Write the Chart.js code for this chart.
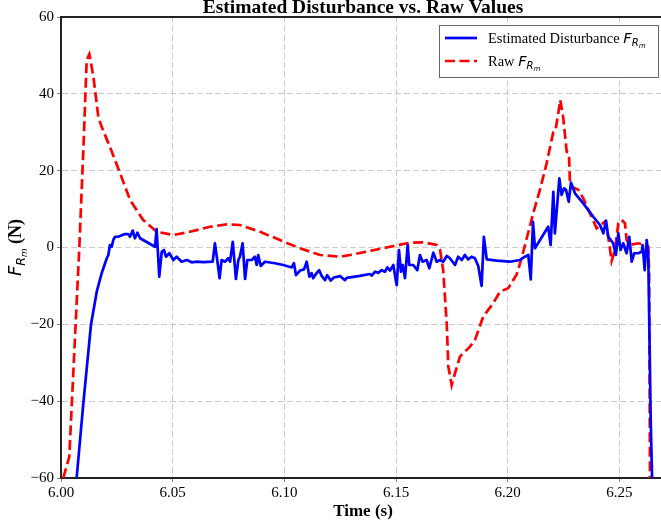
<!DOCTYPE html>
<html><head><meta charset="utf-8">
<script src="https://cdn.jsdelivr.net/npm/chart.js@4"></script>
<style>html,body{margin:0;padding:0;overflow:hidden;background:#fff;width:661px;height:524px}canvas{display:block}</style>
</head><body>
<canvas id="c" width="680" height="524"></canvas>
<script>
const chartTitle = 'Estimated Disturbance vs. Raw Values';
const xTitle = 'Time (s)';
const yUnit = ' (N)';
const symMain = 'F', symSub = 'R', symSubSub = 'm';
const seriesNames = ['Estimated Disturbance ', 'Raw '];
const xTicks = [6.00, 6.05, 6.10, 6.15, 6.20, 6.25];
const yTicks = [-60, -40, -20, 0, 20, 40, 60];

const tEst = [6.0070,6.0100,6.0134,6.0160,6.0182,6.0205,6.0212,6.0219,6.0227,6.0234,
6.0242,6.0256,6.0286,6.0301,6.0309,6.0321,6.0331,6.0342,6.0354,6.0421,
6.0428,6.0440,6.0451,6.0461,6.0470,6.0485,6.0503,6.0518,6.0540,6.0563,
6.0585,6.0607,6.0637,6.0679,6.0689,6.0700,6.0710,6.0719,6.0734,6.0749,
6.0757,6.0769,6.0783,6.0794,6.0801,6.0813,6.0824,6.0834,6.0854,6.0868,
6.0876,6.0883,6.0894,6.0913,6.0958,6.0995,6.1033,6.1043,6.1052,6.1070,
6.1088,6.1100,6.1112,6.1122,6.1129,6.1141,6.1156,6.1167,6.1182,6.1192,
6.1207,6.1222,6.1241,6.1249,6.1271,6.1279,6.1338,6.1383,6.1391,6.1406,
6.1420,6.1436,6.1450,6.1461,6.1473,6.1488,6.1495,6.1503,6.1513,6.1522,
6.1530,6.1540,6.1552,6.1559,6.1577,6.1595,6.1607,6.1619,6.1637,6.1649,
6.1667,6.1682,6.1697,6.1711,6.1727,6.1741,6.1764,6.1778,6.1794,6.1808,
6.1823,6.1838,6.1853,6.1868,6.1883,6.1893,6.1906,6.1950,6.2010,6.2055,
6.2077,6.2092,6.2103,6.2113,6.2122,6.2181,6.2192,6.2204,6.2211,6.2231,
6.2241,6.2252,6.2261,6.2273,6.2283,6.2301,6.2338,6.2383,6.2413,6.2428,
6.2440,6.2450,6.2472,6.2484,6.2495,6.2505,6.2517,6.2532,6.2544,6.2555,
6.2566,6.2584,6.2600,6.2604,6.2613,6.2622,6.2629,6.2640,6.2647];
const vEst = [-60,-40.6,-20.2,-11.5,-6.7,-2.8,-1.95,0.65,0.2,1.95,
2.8,2.8,3.5,3.5,2.8,4.4,2.4,3.85,2.4,0.2,
4.8,-7.6,-1.1,-0.65,-2.4,-1.5,-3.25,-2.4,-3.7,-3.25,
-3.85,-3.7,-3.8,-3.7,1.1,-3.5,-8.0,-3.25,-3.7,-2.8,
-3.7,1.5,-8.2,-3.25,-2.4,1.1,-8.2,-3.25,-3.25,-2.4,
-4.55,-1.95,-4.8,-3.7,-4.1,-4.55,-5.2,-4.1,-7.2,-6.0,
-5.7,-3.7,-7.6,-6.7,-8.0,-6.9,-5.9,-7.4,-8.5,-7.2,
-8.6,-7.8,-7.6,-7.4,-8.5,-7.9,-7.4,-6.9,-7.3,-6.3,
-6.6,-5.9,-6.3,-5.2,-6.0,-4.55,-7.2,-9.8,-0.65,-6.3,
-4.55,-8.0,0.65,-4.55,-4.55,-5.9,-1.95,-3.7,-3.25,-5.4,
-1.35,-3.7,-3.25,-3.7,-2.2,-2.8,-4.55,-2.4,-3.25,-1.95,
-3.1,-2.4,-2.8,-4.8,-10,2.8,-3.1,-3.4,-3.7,-3.25,
-2.4,-1.95,-8.3,6.7,-0.2,5.4,0.65,14.5,3.7,18.0,
13.7,15.4,15.0,11.9,16.9,14.1,11.5,8.0,5.86,3.7,
7.0,2.8,1.1,-1.95,3.7,-0.65,1.1,-1.5,2.8,-3.7,
-1.5,-1.5,-1.1,0.65,-5.9,1.95,-1.5,-44.9,-62];

const tRaw = [6.0010,6.0037,6.0082,6.0100,6.0115,6.0127,6.0145,6.0167,6.0182,6.0219,
6.0264,6.0309,6.0367,6.0428,6.0503,6.0577,6.0667,6.0742,6.0801,6.0891,
6.0980,6.1070,6.1159,6.1249,6.1294,6.1383,6.1473,6.1562,6.1622,6.1682,
6.1697,6.1711,6.1727,6.1734,6.1749,6.1764,6.1786,6.1831,6.1853,6.1890,
6.1935,6.1965,6.2002,6.2040,6.2062,6.2085,6.2114,6.2144,6.2174,6.2204,
6.2214,6.2226,6.2235,6.2248,6.2264,6.2274,6.2278,6.2286,6.2316,6.2338,
6.2368,6.2398,6.2435,6.2450,6.2465,6.2480,6.2495,6.2510,6.2525,6.2532,
6.2547,6.2584,6.2614,6.2629,6.2633,6.2637];
const vRaw = [-60,-54.5,0,25.4,48.8,50.3,44.5,34,31.4,26.2,
19.4,12.4,7.2,4.1,3.25,4.1,5.4,6.0,5.86,4.1,
1.95,-0.2,-1.95,-2.4,-1.95,-0.9,0.2,1.25,1.35,0.65,
-0.65,-5.9,-20,-31,-35.8,-32.7,-28.4,-25.8,-24.1,-18,
-14.5,-11.5,-10.6,-7,-2.8,2.4,8.9,15,21.9,30.1,
30.6,34.9,38.4,34,24.9,24.5,17.6,15.8,15,12.8,
8.9,5.0,6.7,2.8,-3.5,-0.65,6.3,7.2,6.3,1.95,
0.65,1.1,0.65,0.2,-6.7,-62];

const SERIF = '"Liberation Serif", "Times New Roman", serif';
const SANS = '"DejaVu Sans", sans-serif';
const BLUE = '#0000ff', RED = '#ff0000';
const LINE_W = 2.7, DASH = [10, 4.5];

function drawSymbol(ctx, x, y, size) {
  ctx.textBaseline = 'alphabetic';
  ctx.textAlign = 'left';
  ctx.font = 'italic ' + size + 'px ' + SANS;
  ctx.fillText(symMain, x, y);
  let w = ctx.measureText(symMain).width;
  const s2 = size * 0.7;
  ctx.font = 'italic ' + s2 + 'px ' + SANS;
  ctx.fillText(symSub, x + w, y + size * 0.2);
  w += ctx.measureText(symSub).width;
  const s3 = s2 * 0.7;
  ctx.font = 'italic ' + s3 + 'px ' + SANS;
  ctx.fillText(symSubSub, x + w, y + size * 0.2 + s2 * 0.2);
  w += ctx.measureText(symSubSub).width;
  return w;
}
function symbolWidth(ctx, size) {
  ctx.font = 'italic ' + size + 'px ' + SANS;
  let w = ctx.measureText(symMain).width;
  ctx.font = 'italic ' + size * 0.7 + 'px ' + SANS;
  w += ctx.measureText(symSub).width;
  ctx.font = 'italic ' + size * 0.49 + 'px ' + SANS;
  w += ctx.measureText(symSubSub).width;
  return w;
}

const decor = {
  id: 'decor',
  afterDraw(chart) {
    const ctx = chart.ctx, a = chart.chartArea;
    ctx.save();
    ctx.strokeStyle = '#222'; ctx.lineWidth = 2;
    ctx.beginPath(); ctx.moveTo(a.left - 1, a.top); ctx.lineTo(a.right + 1, a.top); ctx.stroke();
    ctx.fillStyle = '#000';
    ctx.font = 'bold 19.5px ' + SERIF;
    ctx.textAlign = 'center'; ctx.textBaseline = 'alphabetic';
    ctx.fillText(chartTitle, (a.left + a.right) / 2, 13);
    const ys = 18;
    ctx.font = 'bold ' + ys + 'px ' + SERIF;
    const unitW = ctx.measureText(yUnit).width;
    const total = symbolWidth(ctx, ys) + unitW;
    ctx.save();
    ctx.translate(21, (a.top + a.bottom) / 2 + total / 2);
    ctx.rotate(-Math.PI / 2);
    const w0 = drawSymbol(ctx, 0, 0, ys);
    ctx.font = 'bold ' + ys + 'px ' + SERIF;
    ctx.fillText(yUnit, w0, 0);
    ctx.restore();
    const lx = 439.5, ly = 25.5, lw = 219, lh = 52;
    ctx.fillStyle = 'rgba(255,255,255,0.9)';
    ctx.fillRect(lx, ly, lw, lh);
    ctx.strokeStyle = '#666'; ctx.lineWidth = 1;
    ctx.strokeRect(lx, ly, lw, lh);
    const rows = [{y: 38, color: BLUE, dash: []}, {y: 61, color: RED, dash: DASH}];
    rows.forEach((r, i) => {
      ctx.strokeStyle = r.color; ctx.lineWidth = LINE_W; ctx.setLineDash(r.dash);
      ctx.beginPath(); ctx.moveTo(445, r.y); ctx.lineTo(477, r.y); ctx.stroke();
      ctx.setLineDash([]);
      ctx.fillStyle = '#000';
      ctx.font = '14.5px ' + SERIF;
      ctx.textAlign = 'left'; ctx.textBaseline = 'alphabetic';
      const by = r.y + 5;
      ctx.fillText(seriesNames[i], 488, by);
      const tw = ctx.measureText(seriesNames[i]).width;
      drawSymbol(ctx, 488 + tw, by, 14.5);
    });
    ctx.restore();
  }
};

const toXY = (ts, vs) => ts.map((t, i) => ({x: t, y: vs[i]}));

new Chart(document.getElementById('c'), {
  type: 'line',
  data: {
    datasets: [
      {label: seriesNames[0], data: toXY(tEst, vEst), borderColor: BLUE, borderWidth: LINE_W,
       pointRadius: 0, tension: 0, fill: false, clip: 0, borderJoinStyle: 'round'},
      {label: seriesNames[1], data: toXY(tRaw, vRaw), borderColor: RED, borderWidth: LINE_W,
       borderDash: DASH, pointRadius: 0, tension: 0, fill: false, clip: 0}
    ]
  },
  options: {
    responsive: false, animation: false, devicePixelRatio: 1,
    layout: {padding: {top: 17, right: 15, left: 0, bottom: 0}},
    plugins: {legend: {display: false}, title: {display: false}, tooltip: {enabled: false}},
    scales: {
      x: {
        type: 'linear', min: 6.0, max: 6.2704,
        afterBuildTicks: s => { s.ticks = xTicks.map(v => ({value: v})); },
        afterFit: s => { s.height = 46; },
        ticks: {callback: v => Number(v).toFixed(2), font: {family: SERIF, size: 15}, color: '#000',
                padding: 2, maxRotation: 0, autoSkip: false},
        grid: {color: '#cccccc', lineWidth: 1, tickLength: 4, tickColor: '#888', tickBorderDash: [], drawTicks: true},
        border: {color: '#222', width: 2, dash: [6, 3]},
        title: {display: true, text: xTitle, font: {family: SERIF, size: 17, weight: 'bold'}, color: '#000',
                padding: {top: 0, bottom: 2}}
      },
      y: {
        type: 'linear', min: -60, max: 60,
        afterBuildTicks: s => { s.ticks = yTicks.map(v => ({value: v})); },
        afterFit: s => { s.width = 61; },
        ticks: {callback: v => String(v).replace('-', '\u2212'), font: {family: SERIF, size: 15}, color: '#000', padding: 3},
        grid: {color: '#cccccc', lineWidth: 1, tickLength: 4, tickColor: '#888', tickBorderDash: [], drawTicks: true},
        border: {color: '#222', width: 2, dash: [6, 3]}
      }
    }
  },
  plugins: [decor]
});
</script>
</body></html>
